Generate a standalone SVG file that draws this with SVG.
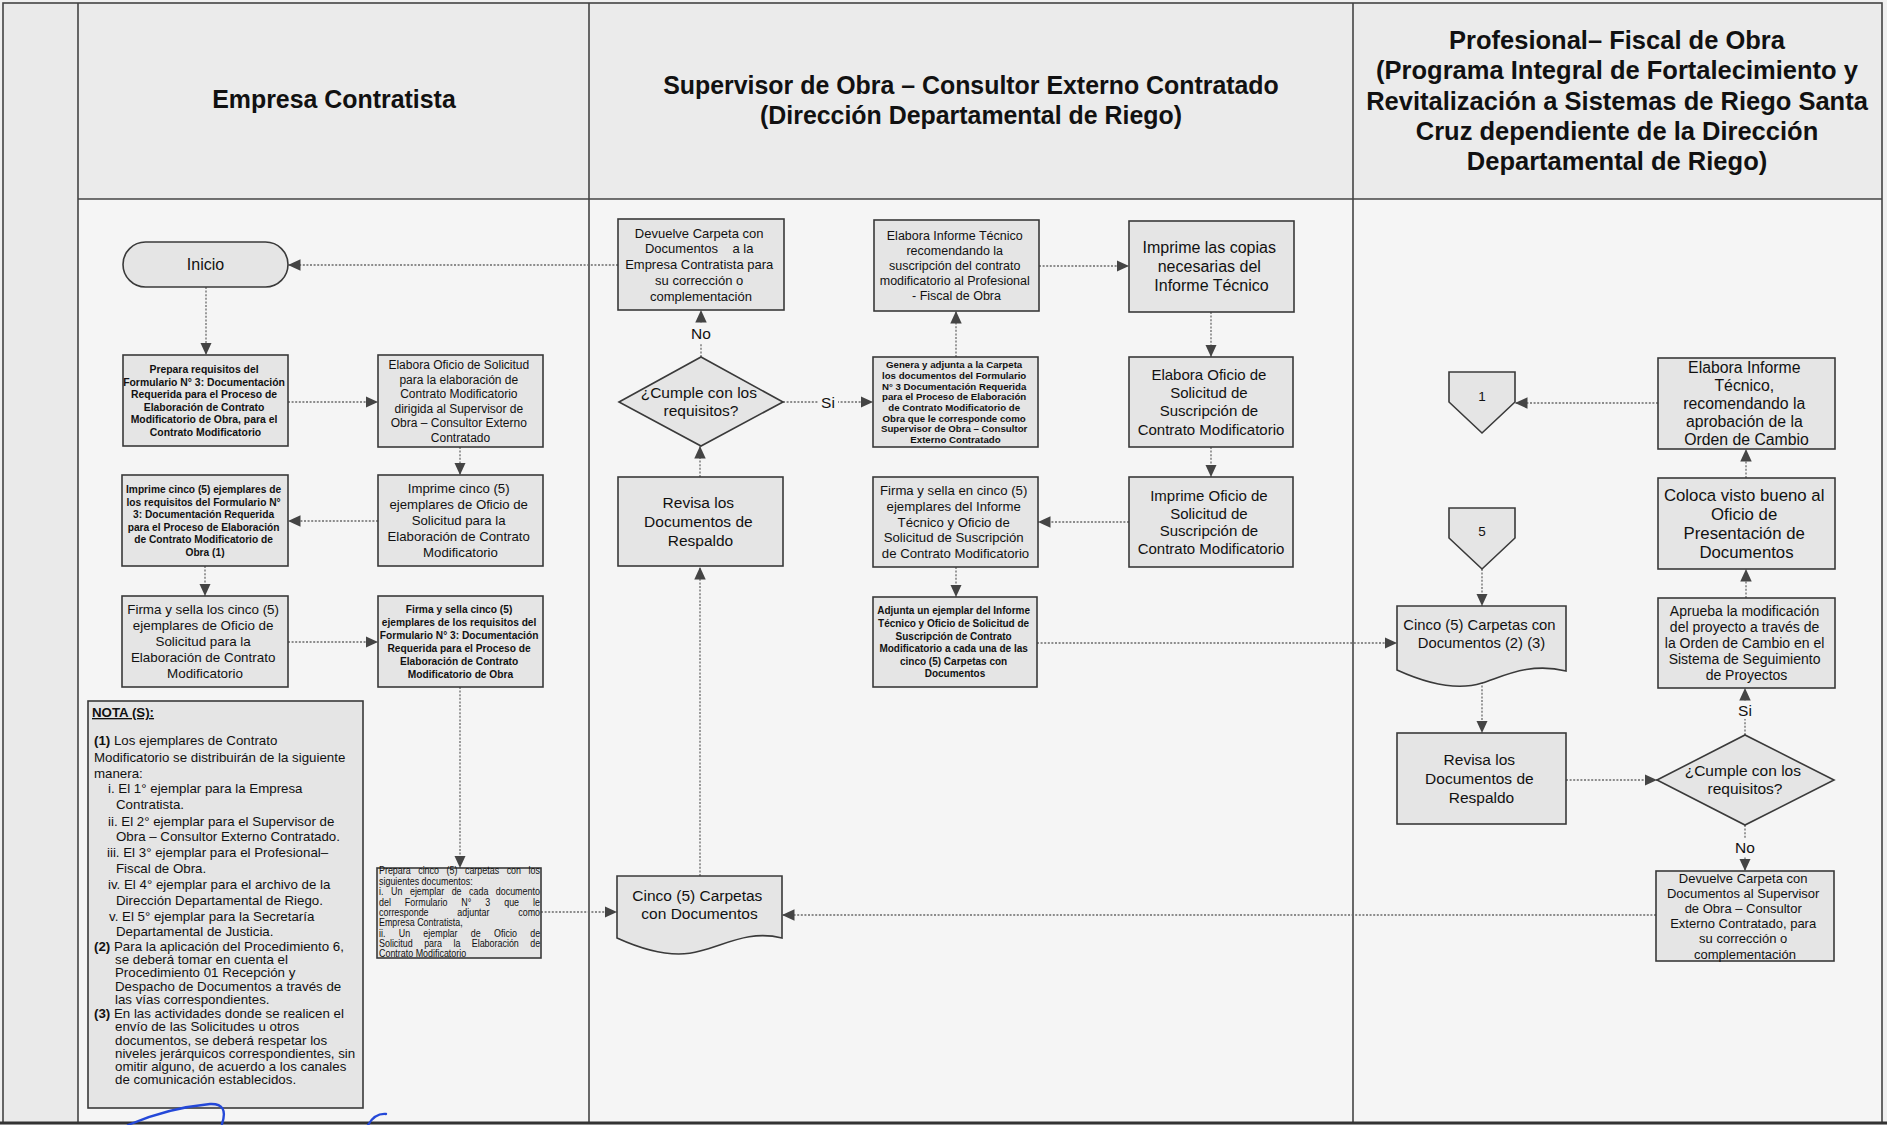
<svg xmlns="http://www.w3.org/2000/svg" width="1887" height="1125" viewBox="0 0 1887 1125">
  <defs>
    <style>
      .box { fill: #e5e5e5; stroke: #3a3a3a; stroke-width: 1.6; }
      .t { font-family: "Liberation Sans", Arial, sans-serif; fill: #111; text-anchor: middle; }
      .tl { font-family: "Liberation Sans", Arial, sans-serif; fill: #111; text-anchor: start; }
      .b { font-weight: bold; }
      .hd { font-family: "Liberation Sans", Arial, sans-serif; font-weight: bold; fill: #111; text-anchor: middle; }
      .c { fill: none; stroke: #6a6a6a; stroke-width: 1.3; stroke-dasharray: 2 1.6; marker-end: url(#ah); }
      .frame { fill: none; stroke: #444; stroke-width: 1.6; }
      .lblbg { fill: #f5f5f5; }
    </style>
    <marker id="ah" viewBox="0 0 12 12" refX="12" refY="6" markerWidth="12.5" markerHeight="12.5" markerUnits="userSpaceOnUse" orient="auto">
      <path d="M0,0.5 L12,6 L0,11.5 z" fill="#444"/>
    </marker>
  </defs>

  <!-- page background: margin column, header band, lane body -->
  <rect x="0" y="0" width="1887" height="1125" fill="#f0f0f0"/>
  <rect x="3" y="3" width="75" height="1120" fill="#eaeaea"/>
  <rect x="78" y="3" width="1804" height="196" fill="#ebebeb"/>
  <rect x="78" y="199" width="1804" height="924" fill="#f5f5f5"/>

  <!-- swimlane grid -->
  <g id="lanes">
    <rect class="frame" x="3" y="3" width="1879" height="1120" stroke-width="2"/>
    <line class="frame" x1="78" y1="3" x2="78" y2="1123"/>
    <line class="frame" x1="78" y1="199" x2="1882" y2="199"/>
    <line class="frame" x1="589" y1="3" x2="589" y2="1123"/>
    <line class="frame" x1="1353" y1="3" x2="1353" y2="1123"/>
    <line x1="0" y1="1123" x2="1887" y2="1123" stroke="#333" stroke-width="3"/>
  </g>

  <!-- lane titles -->
  <g id="lane-headers">
    <text class="hd" x="334" y="108" font-size="26.5" transform="matrix(0.94 0 0 1 20.04 0)">Empresa Contratista</text>
    <g transform="matrix(0.94 0 0 1 58.26 0)">
      <text class="hd" x="971" y="94" font-size="26.5">Supervisor de Obra – Consultor Externo Contratado</text>
      <text class="hd" x="971" y="124" font-size="26.5">(Dirección Departamental de Riego)</text>
    </g>
    <text class="hd" x="1617" y="49" font-size="25.5">Profesional– Fiscal de Obra</text>
    <text class="hd" x="1617" y="79" font-size="25.5">(Programa Integral de Fortalecimiento y</text>
    <text class="hd" x="1617" y="110" font-size="25.5">Revitalización a Sistemas de Riego Santa</text>
    <text class="hd" x="1617" y="140" font-size="25.5">Cruz dependiente de la Dirección</text>
    <text class="hd" x="1617" y="170" font-size="25.5">Departamental de Riego)</text>
  </g>

  <!-- connectors -->
  <g id="connectors">
    <path class="c" d="M206,287 V355"/>
    <path class="c" d="M288,402 H378"/>
    <path class="c" d="M460,447 V475"/>
    <path class="c" d="M378,521 H288"/>
    <path class="c" d="M205,566 V596"/>
    <path class="c" d="M288,642 H378"/>
    <path class="c" d="M460,687 V868"/>
    <path class="c" d="M541,912 H617"/>
    <path class="c" d="M700,876 V567"/>
    <path class="c" d="M700,477 V446"/>
    <path class="c" d="M701,357 V310"/>
    <path class="c" d="M618,265 H288"/>
    <path class="c" d="M783,402 H873"/>
    <path class="c" d="M956,357 V311"/>
    <path class="c" d="M1039,266 H1129"/>
    <path class="c" d="M1211,312 V357"/>
    <path class="c" d="M1211,447 V477"/>
    <path class="c" d="M1129,522 H1038"/>
    <path class="c" d="M956,567 V597"/>
    <path class="c" d="M1037,643 H1397"/>
    <path class="c" d="M1482,569 V606"/>
    <path class="c" d="M1482,682 V733"/>
    <path class="c" d="M1566,780 H1657"/>
    <path class="c" d="M1745,735 V688"/>
    <path class="c" d="M1745,825 V871"/>
    <path class="c" d="M1656,915 H782"/>
    <path class="c" d="M1746,598 V569"/>
    <path class="c" d="M1746,478 V449"/>
    <path class="c" d="M1658,403 H1515"/>
    <!-- branch labels -->
    <rect class="lblbg" x="690" y="323" width="22" height="20"/>
    <text class="t" x="701" y="339" font-size="15.5">No</text>
    <rect class="lblbg" x="818" y="393" width="20" height="18"/>
    <text class="t" x="828" y="407.5" font-size="15.5">Si</text>
    <rect class="lblbg" x="1735" y="701" width="20" height="18"/>
    <text class="t" x="1745" y="716" font-size="15.5">Si</text>
    <rect class="lblbg" x="1734" y="838" width="22" height="19"/>
    <text class="t" x="1745" y="853" font-size="15.5">No</text>
  </g>

  <!-- Empresa Contratista lane -->
  <g id="inicio">
    <rect class="box" x="123" y="242" width="165" height="45" rx="22.5"/>
    <text class="t" x="205.5" y="270" font-size="16">Inicio</text>
  </g>
  <g id="prepara-requisitos">
    <rect class="box" x="123" y="355" width="165" height="91"/>
    <text class="t b" font-size="10.4">
      <tspan x="205.5" y="372.9">Prepara requisitos del</tspan>
      <tspan x="205.5" y="385.5">Formulario N° 3: Documentación</tspan>
      <tspan x="205.5" y="398.1">Requerida para el Proceso de</tspan>
      <tspan x="205.5" y="410.7">Elaboración de Contrato</tspan>
      <tspan x="205.5" y="423.3">Modificatorio de Obra,  para el</tspan>
      <tspan x="205.5" y="435.9">Contrato Modificatorio</tspan>
    </text>
  </g>
  <g id="elabora-oficio-solicitud">
    <rect class="box" x="378" y="355" width="165" height="92"/>
    <text class="t" font-size="12">
      <tspan x="460.5" y="369">Elabora Oficio de Solicitud</tspan>
      <tspan x="460.5" y="383.5">para la elaboración de</tspan>
      <tspan x="460.5" y="398">Contrato Modificatorio</tspan>
      <tspan x="460.5" y="412.5">dirigida al Supervisor de</tspan>
      <tspan x="460.5" y="427">Obra – Consultor Externo</tspan>
      <tspan x="460.5" y="441.5">Contratado</tspan>
    </text>
  </g>
  <g id="imprime-requisitos">
    <rect class="box" x="122" y="475" width="166" height="91"/>
    <text class="t b" font-size="10.2">
      <tspan x="205" y="493.1">Imprime cinco (5) ejemplares de</tspan>
      <tspan x="205" y="505.6">los requisitos del Formulario N°</tspan>
      <tspan x="205" y="518.1">3: Documentación Requerida</tspan>
      <tspan x="205" y="530.6">para el Proceso de Elaboración</tspan>
      <tspan x="205" y="543.1">de Contrato Modificatorio de</tspan>
      <tspan x="205" y="555.6">Obra (1)</tspan>
    </text>
  </g>
  <g id="imprime-oficio">
    <rect class="box" x="378" y="475" width="165" height="91"/>
    <text class="t" font-size="13.2">
      <tspan x="460.5" y="493.1">Imprime cinco (5)</tspan>
      <tspan x="460.5" y="509.1">ejemplares de Oficio de</tspan>
      <tspan x="460.5" y="525.1">Solicitud para la</tspan>
      <tspan x="460.5" y="541.1">Elaboración de Contrato</tspan>
      <tspan x="460.5" y="557.1">Modificatorio</tspan>
    </text>
  </g>
  <g id="firma-oficio">
    <rect class="box" x="122" y="596" width="166" height="91"/>
    <text class="t" font-size="13.4">
      <tspan x="205" y="614.2">Firma y sella los cinco (5)</tspan>
      <tspan x="205" y="630.2">ejemplares de Oficio de</tspan>
      <tspan x="205" y="646.2">Solicitud para la</tspan>
      <tspan x="205" y="662.2">Elaboración de Contrato</tspan>
      <tspan x="205" y="678.2">Modificatorio</tspan>
    </text>
  </g>
  <g id="firma-requisitos">
    <rect class="box" x="378" y="596" width="165" height="91"/>
    <text class="t b" font-size="10.2">
      <tspan x="460.5" y="612.9">Firma y sella cinco (5)</tspan>
      <tspan x="460.5" y="625.9">ejemplares de los requisitos del</tspan>
      <tspan x="460.5" y="638.9">Formulario N° 3: Documentación</tspan>
      <tspan x="460.5" y="651.9">Requerida para el Proceso de</tspan>
      <tspan x="460.5" y="664.9">Elaboración de Contrato</tspan>
      <tspan x="460.5" y="677.9">Modificatorio de Obra</tspan>
    </text>
  </g>
  <g id="prepara-carpetas">
    <rect class="box" x="377" y="868" width="164" height="90"/>
    <!-- condensed, justified paragraph -->
    <text class="tl" font-size="10.5" transform="matrix(0.85 0 0 1 56.85 0)">
      <tspan x="379" y="874.5">Prepara</tspan><tspan x="425.1" y="874.5">cinco</tspan><tspan x="458.4" y="874.5">(5)</tspan><tspan x="480.1" y="874.5">carpetas</tspan><tspan x="529.2" y="874.5">con</tspan><tspan x="554.9" y="874.5">los</tspan>
      <tspan x="379" y="884.9">siguientes documentos:</tspan>
      <tspan x="379" y="895.3">i.</tspan><tspan x="393.1" y="895.3">Un</tspan><tspan x="415.4" y="895.3">ejemplar</tspan><tspan x="464.5" y="895.3">de</tspan><tspan x="484.9" y="895.3">cada</tspan><tspan x="516.4" y="895.3">documento</tspan>
      <tspan x="379" y="905.7">del</tspan><tspan x="409.4" y="905.7">Formulario</tspan><tspan x="475.9" y="905.7">N°</tspan><tspan x="504.1" y="905.7">3</tspan><tspan x="526.3" y="905.7">que</tspan><tspan x="560.3" y="905.7">le</tspan>
      <tspan x="379" y="916.1">corresponde</tspan><tspan x="471.1" y="916.1">adjuntar</tspan><tspan x="542.8" y="916.1">como</tspan>
      <tspan x="379" y="926.5">Empresa Contratista,</tspan>
      <tspan x="379" y="936.9">ii.</tspan><tspan x="402.2" y="936.9">Un</tspan><tspan x="431.2" y="936.9">ejemplar</tspan><tspan x="487.1" y="936.9">de</tspan><tspan x="514.4" y="936.9">Oficio</tspan><tspan x="556.9" y="936.9">de</tspan>
      <tspan x="379" y="947.3">Solicitud</tspan><tspan x="432.1" y="947.3">para</tspan><tspan x="466.6" y="947.3">la</tspan><tspan x="488.1" y="947.3">Elaboración</tspan><tspan x="557" y="947.3">de</tspan>
      <tspan x="379" y="957.2">Contrato Modificatorio</tspan>
    </text>
  </g>
  <g id="notas">
    <rect class="box" x="88" y="701" width="275" height="407"/>
    <text class="tl" x="92" y="717" font-size="13.3" font-weight="bold" text-decoration="underline">NOTA (S):</text>
    <text class="tl" font-size="13.3">
      <tspan x="94" y="745"><tspan font-weight="bold">(1)</tspan>  Los ejemplares de Contrato</tspan>
      <tspan x="94" y="762">Modificatorio se distribuirán de la siguiente</tspan>
      <tspan x="94" y="778">manera:</tspan>
      <tspan x="108" y="793">i. El 1° ejemplar para la Empresa</tspan>
      <tspan x="116" y="809">Contratista.</tspan>
      <tspan x="108" y="826">ii. El 2° ejemplar para el Supervisor de</tspan>
      <tspan x="116" y="841">Obra – Consultor Externo Contratado.</tspan>
      <tspan x="107" y="857">iii. El 3° ejemplar para el Profesional–</tspan>
      <tspan x="116" y="873">Fiscal de Obra.</tspan>
      <tspan x="108" y="889">iv. El 4° ejemplar para el archivo de la</tspan>
      <tspan x="116" y="905">Dirección Departamental de Riego.</tspan>
      <tspan x="109" y="921">v. El 5° ejemplar para la Secretaría</tspan>
      <tspan x="116" y="936">Departamental de Justicia.</tspan>
      <tspan x="94" y="951"><tspan font-weight="bold">(2)</tspan> Para la aplicación del  Procedimiento 6,</tspan>
      <tspan x="115" y="964">se deberá tomar en cuenta el</tspan>
      <tspan x="115" y="977">Procedimiento 01 Recepción y</tspan>
      <tspan x="115" y="991">Despacho de Documentos a través de</tspan>
      <tspan x="115" y="1004">las vías correspondientes.</tspan>
      <tspan x="94" y="1018"><tspan font-weight="bold">(3)</tspan> En las actividades donde se realicen  el</tspan>
      <tspan x="115" y="1031">envío de las Solicitudes u otros</tspan>
      <tspan x="115" y="1045">documentos, se deberá respetar los</tspan>
      <tspan x="115" y="1058">niveles jerárquicos correspondientes, sin</tspan>
      <tspan x="115" y="1071">omitir alguno, de acuerdo a los canales</tspan>
      <tspan x="115" y="1084">de comunicación establecidos.</tspan>
    </text>
  </g>

  <!-- Supervisor de Obra lane -->
  <g id="devuelve-empresa">
    <rect class="box" x="618" y="219" width="166" height="91"/>
    <text class="t" font-size="13">
      <tspan x="701" y="237.5">Devuelve Carpeta con</tspan>
      <tspan x="701" y="253.3">Documentos&#160;&#160;&#160; a la</tspan>
      <tspan x="701" y="269.1">Empresa Contratista para</tspan>
      <tspan x="701" y="284.9">su corrección o</tspan>
      <tspan x="701" y="300.7">complementación</tspan>
    </text>
  </g>
  <g id="cumple-supervisor">
    <polygon class="box" points="619,402 701,357 783,402 701,446"/>
    <text class="t" font-size="15.5">
      <tspan x="701" y="397.5">¿Cumple con los</tspan>
      <tspan x="701" y="416">requisitos?</tspan>
    </text>
  </g>
  <g id="revisa-supervisor">
    <rect class="box" x="618" y="477" width="165" height="89"/>
    <text class="t" font-size="15.5">
      <tspan x="700.5" y="507.9">Revisa los</tspan>
      <tspan x="700.5" y="526.9">Documentos de</tspan>
      <tspan x="700.5" y="545.9">Respaldo</tspan>
    </text>
  </g>
  <g id="carpetas-supervisor">
    <path class="box" d="M617,876 H782 V938 C750,930 727,944 700,951 C677,958 650,953 617,938 Z"/>
    <text class="t" font-size="15.5">
      <tspan x="699.5" y="900.5">Cinco (5) Carpetas</tspan>
      <tspan x="699.5" y="918.5">con Documentos</tspan>
    </text>
  </g>
  <g id="elabora-informe">
    <rect class="box" x="874" y="220" width="165" height="91"/>
    <text class="t" font-size="12.5">
      <tspan x="956.5" y="239.9">Elabora Informe Técnico</tspan>
      <tspan x="956.5" y="254.9">recomendando la</tspan>
      <tspan x="956.5" y="269.9">suscripción del contrato</tspan>
      <tspan x="956.5" y="284.9">modificatorio al Profesional</tspan>
      <tspan x="956.5" y="299.9">- Fiscal de Obra</tspan>
    </text>
  </g>
  <g id="genera-adjunta">
    <rect class="box" x="873" y="357" width="165" height="90"/>
    <text class="t b" font-size="9.7">
      <tspan x="955.5" y="368.2">Genera y adjunta a la Carpeta</tspan>
      <tspan x="955.5" y="378.9">los documentos del Formulario</tspan>
      <tspan x="955.5" y="389.6">N° 3 Documentación Requerida</tspan>
      <tspan x="955.5" y="400.3">para el Proceso de Elaboración</tspan>
      <tspan x="955.5" y="411">de Contrato Modificatorio de</tspan>
      <tspan x="955.5" y="421.7">Obra que le corresponde como</tspan>
      <tspan x="955.5" y="432.4">Supervisor de Obra – Consultor</tspan>
      <tspan x="955.5" y="443.1">Externo Contratado</tspan>
    </text>
  </g>
  <g id="firma-informe">
    <rect class="box" x="873" y="477" width="165" height="90"/>
    <text class="t" font-size="13.2">
      <tspan x="955.5" y="495.2">Firma y sella en cinco (5)</tspan>
      <tspan x="955.5" y="510.9">ejemplares del Informe</tspan>
      <tspan x="955.5" y="526.6">Técnico y Oficio de</tspan>
      <tspan x="955.5" y="542.3">Solicitud de Suscripción</tspan>
      <tspan x="955.5" y="558">de Contrato Modificatorio</tspan>
    </text>
  </g>
  <g id="adjunta-ejemplar">
    <rect class="box" x="873" y="597" width="164" height="90"/>
    <text class="t b" font-size="10">
      <tspan x="955" y="614.3">Adjunta un ejemplar del Informe</tspan>
      <tspan x="955" y="626.9">Técnico y Oficio de Solicitud de</tspan>
      <tspan x="955" y="639.5">Suscripción de Contrato</tspan>
      <tspan x="955" y="652.1">Modificatorio a cada una de las</tspan>
      <tspan x="955" y="664.7">cinco (5) Carpetas con</tspan>
      <tspan x="955" y="677.3">Documentos</tspan>
    </text>
  </g>
  <g id="imprime-copias">
    <rect class="box" x="1129" y="221" width="165" height="91"/>
    <text class="t" font-size="16">
      <tspan x="1211.5" y="253.1">Imprime las copias</tspan>
      <tspan x="1211.5" y="272.1">necesarias del</tspan>
      <tspan x="1211.5" y="291.1">Informe Técnico</tspan>
    </text>
  </g>
  <g id="elabora-oficio-suscripcion">
    <rect class="box" x="1129" y="357" width="164" height="90"/>
    <text class="t" font-size="15">
      <tspan x="1211" y="379.8">Elabora Oficio de</tspan>
      <tspan x="1211" y="398.1">Solicitud de</tspan>
      <tspan x="1211" y="416.4">Suscripción de</tspan>
      <tspan x="1211" y="434.7">Contrato Modificatorio</tspan>
    </text>
  </g>
  <g id="imprime-oficio-suscripcion">
    <rect class="box" x="1129" y="477" width="164" height="90"/>
    <text class="t" font-size="15">
      <tspan x="1211" y="501">Imprime Oficio de</tspan>
      <tspan x="1211" y="518.5">Solicitud de</tspan>
      <tspan x="1211" y="536">Suscripción de</tspan>
      <tspan x="1211" y="553.5">Contrato Modificatorio</tspan>
    </text>
  </g>

  <!-- Profesional - Fiscal de Obra lane -->
  <g id="conector-1">
    <polygon class="box" points="1449,372 1515,372 1515,402 1482,433 1449,402"/>
    <text class="t" x="1482" y="400.5" font-size="13.5">1</text>
  </g>
  <g id="conector-5">
    <polygon class="box" points="1449,508 1515,508 1515,538 1482,569 1449,538"/>
    <text class="t" x="1482" y="535.5" font-size="13.5">5</text>
  </g>
  <g id="carpetas-fiscal">
    <path class="box" d="M1397,606 H1566 V671 C1530,662 1504,676 1482,683 C1460,690 1430,685 1397,670 Z"/>
    <text class="t" font-size="14.8">
      <tspan x="1481.5" y="630.2">Cinco (5) Carpetas con</tspan>
      <tspan x="1481.5" y="648.2">Documentos (2) (3)</tspan>
    </text>
  </g>
  <g id="revisa-fiscal">
    <rect class="box" x="1397" y="733" width="169" height="91"/>
    <text class="t" font-size="15.5">
      <tspan x="1481.5" y="764.9">Revisa los</tspan>
      <tspan x="1481.5" y="783.9">Documentos de</tspan>
      <tspan x="1481.5" y="802.9">Respaldo</tspan>
    </text>
  </g>
  <g id="cumple-fiscal">
    <polygon class="box" points="1657,780 1745,735 1834,780 1745,825"/>
    <text class="t" font-size="15.5">
      <tspan x="1745" y="775.5">¿Cumple con los</tspan>
      <tspan x="1745" y="794">requisitos?</tspan>
    </text>
  </g>
  <g id="devuelve-supervisor">
    <rect class="box" x="1656" y="871" width="178" height="90"/>
    <text class="t" font-size="13">
      <tspan x="1745" y="882.6">Devuelve Carpeta con</tspan>
      <tspan x="1745" y="897.8">Documentos al Supervisor</tspan>
      <tspan x="1745" y="913">de Obra – Consultor</tspan>
      <tspan x="1745" y="928.2">Externo Contratado, para</tspan>
      <tspan x="1745" y="943.4">su corrección o</tspan>
      <tspan x="1745" y="958.6">complementación</tspan>
    </text>
  </g>
  <g id="aprueba-modificacion">
    <rect class="box" x="1658" y="598" width="177" height="90"/>
    <text class="t" font-size="14">
      <tspan x="1746.5" y="616.3">Aprueba la modificación</tspan>
      <tspan x="1746.5" y="632.1">del proyecto a través de</tspan>
      <tspan x="1746.5" y="647.9">la Orden de Cambio en el</tspan>
      <tspan x="1746.5" y="663.7">Sistema de Seguimiento</tspan>
      <tspan x="1746.5" y="679.5">de Proyectos</tspan>
    </text>
  </g>
  <g id="coloca-visto-bueno">
    <rect class="box" x="1658" y="478" width="177" height="91"/>
    <text class="t" font-size="16.8">
      <tspan x="1746.5" y="501.4">Coloca visto bueno al</tspan>
      <tspan x="1746.5" y="520.1">Oficio de</tspan>
      <tspan x="1746.5" y="538.8">Presentación de</tspan>
      <tspan x="1746.5" y="557.5">Documentos</tspan>
    </text>
  </g>
  <g id="elabora-informe-fiscal">
    <rect class="box" x="1658" y="358" width="177" height="91"/>
    <text class="t" font-size="15.8">
      <tspan x="1746.5" y="372.6">Elabora Informe</tspan>
      <tspan x="1746.5" y="390.8">Técnico,</tspan>
      <tspan x="1746.5" y="409">recomendando la</tspan>
      <tspan x="1746.5" y="427.2">aprobación de la</tspan>
      <tspan x="1746.5" y="445.4">Orden de Cambio</tspan>
    </text>
  </g>

  <!-- ink signature strokes along the bottom edge -->
  <g id="firma-tinta" fill="none" stroke="#2448d8" stroke-width="2.4" stroke-linecap="round">
    <path d="M128,1125 Q168,1108 210,1104 Q229,1103 222,1124"/>
    <path d="M368,1125 Q375,1113 386,1114"/>
  </g>
</svg>
